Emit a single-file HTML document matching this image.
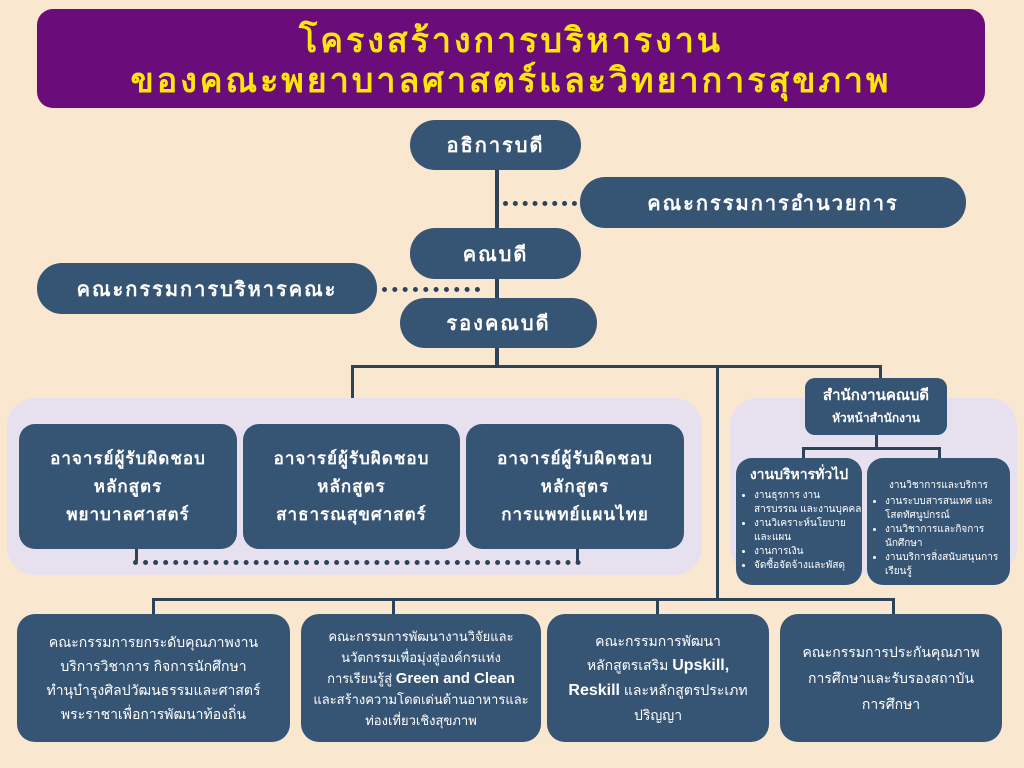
<!DOCTYPE html>
<html><head><meta charset="utf-8"><style>
*{margin:0;padding:0;box-sizing:border-box}
body{width:1024px;height:768px;background:#fae7cf;position:relative;overflow:hidden;font-family:"Liberation Sans","DejaVu Sans",sans-serif;color:#fff}
.a{position:absolute}
.b{position:absolute;background:#365473;color:#fff;display:flex;align-items:center;justify-content:center;text-align:center;font-weight:bold}
.l{position:absolute;background:#2f4358}
.dots{position:absolute;border-top:5px dotted #2f4358;height:0}
.sm{font-size:14px;line-height:22px;font-weight:normal}
ul{list-style:disc;text-align:left;font-size:10px;line-height:14px;padding-left:22px;font-weight:normal}
</style></head><body>
<div class="a" style="left:37px;top:9px;width:948px;height:99px;background:#6a0c7a;border-radius:16px;color:#ffe60a;font-weight:bold;font-size:34px;line-height:40px;text-align:center;padding-top:12px;letter-spacing:3px">โครงสร้างการบริหารงาน<br>ของคณะพยาบาลศาสตร์และวิทยาการสุขภาพ</div>

<div class="l" style="left:495px;top:165px;width:4px;height:140px"></div>
<div class="dots" style="left:503px;top:201px;width:74px"></div>
<div class="dots" style="left:382px;top:287px;width:98px"></div>

<div class="b" style="left:410px;top:120px;width:171px;height:50px;border-radius:25px;font-size:20px;letter-spacing:2px">อธิการบดี</div>
<div class="b" style="left:580px;top:177px;width:386px;height:51px;border-radius:25px;font-size:20px;letter-spacing:2px">คณะกรรมการอำนวยการ</div>
<div class="b" style="left:410px;top:228px;width:171px;height:51px;border-radius:25px;font-size:20px;letter-spacing:2px">คณบดี</div>
<div class="b" style="left:37px;top:263px;width:340px;height:51px;border-radius:25px;font-size:20px;letter-spacing:2px">คณะกรรมการบริหารคณะ</div>
<div class="b" style="left:400px;top:298px;width:197px;height:50px;border-radius:25px;font-size:20px;letter-spacing:2px">รองคณบดี</div>

<div class="l" style="left:495px;top:348px;width:4px;height:20px"></div>
<div class="l" style="left:351px;top:365px;width:531px;height:3px"></div>
<div class="l" style="left:351px;top:365px;width:3px;height:36px"></div>
<div class="l" style="left:716px;top:365px;width:3px;height:236px"></div>
<div class="l" style="left:879px;top:365px;width:3px;height:15px"></div>

<div class="a" style="left:7px;top:398px;width:695px;height:177px;background:#e6e0ef;border-radius:28px"></div>
<div class="a" style="left:730px;top:398px;width:287px;height:177px;background:#e6e0ef;border-radius:28px"></div>

<div class="b" style="left:19px;top:424px;width:218px;height:125px;border-radius:16px;font-size:17px;line-height:28px;letter-spacing:1px"><div>อาจารย์ผู้รับผิดชอบ<br>หลักสูตร<br>พยาบาลศาสตร์</div></div>
<div class="b" style="left:243px;top:424px;width:217px;height:125px;border-radius:16px;font-size:17px;line-height:28px;letter-spacing:1px"><div>อาจารย์ผู้รับผิดชอบ<br>หลักสูตร<br>สาธารณสุขศาสตร์</div></div>
<div class="b" style="left:466px;top:424px;width:218px;height:125px;border-radius:16px;font-size:17px;line-height:28px;letter-spacing:1px"><div>อาจารย์ผู้รับผิดชอบ<br>หลักสูตร<br>การแพทย์แผนไทย</div></div>
<div class="l" style="left:135px;top:549px;width:3px;height:12px"></div>
<div class="l" style="left:576px;top:549px;width:3px;height:12px"></div>
<div class="dots" style="left:133px;top:560px;width:448px"></div>

<div class="l" style="left:875px;top:435px;width:3px;height:13px"></div>
<div class="l" style="left:802px;top:447px;width:139px;height:3px"></div>
<div class="l" style="left:802px;top:447px;width:3px;height:12px"></div>
<div class="l" style="left:938px;top:447px;width:3px;height:12px"></div>
<div class="b" style="left:805px;top:378px;width:142px;height:57px;border-radius:10px;font-size:15px;line-height:22px;flex-direction:column">สำนักงานคณบดี<span style="font-size:12px">หัวหน้าสำนักงาน</span></div>
<div class="b" style="left:736px;top:458px;width:126px;height:127px;border-radius:16px;flex-direction:column;justify-content:flex-start;padding-top:6px"><div style="font-size:14px">งานบริหารทั่วไป</div><ul style="padding-left:18px;margin-top:3px"><li>งานธุรการ งานสารบรรณ และงานบุคคล</li><li>งานวิเคราะห์นโยบายและแผน</li><li>งานการเงิน</li><li>จัดซื้อจัดจ้างและพัสดุ</li></ul></div>
<div class="b" style="left:867px;top:458px;width:143px;height:127px;border-radius:16px;flex-direction:column;justify-content:flex-start;padding-top:20px"><div style="font-size:10px;font-weight:normal">งานวิชาการและบริการ</div><ul style="padding-left:18px;margin-top:2px"><li>งานระบบสารสนเทศ และ โสตทัศนูปกรณ์</li><li>งานวิชาการและกิจการนักศึกษา</li><li>งานบริการสิ่งสนับสนุนการเรียนรู้</li></ul></div>

<div class="l" style="left:152px;top:598px;width:742px;height:3px"></div>
<div class="l" style="left:152px;top:598px;width:3px;height:17px"></div>
<div class="l" style="left:392px;top:598px;width:3px;height:17px"></div>
<div class="l" style="left:656px;top:598px;width:3px;height:17px"></div>
<div class="l" style="left:892px;top:598px;width:3px;height:17px"></div>

<div class="b sm" style="left:17px;top:614px;width:273px;height:128px;border-radius:18px;font-size:14px;line-height:24px"><div>คณะกรรมการยกระดับคุณภาพงาน<br>บริการวิชาการ กิจการนักศึกษา<br>ทำนุบำรุงศิลปวัฒนธรรมและศาสตร์<br>พระราชาเพื่อการพัฒนาท้องถิ่น</div></div>
<div class="b sm" style="left:301px;top:614px;width:240px;height:128px;border-radius:18px;font-size:13px;line-height:21px"><div>คณะกรรมการพัฒนางานวิจัยและ<br>นวัตกรรมเพื่อมุ่งสู่องค์กรแห่ง<br>การเรียนรู้สู่ <b style="font-size:15px">Green and Clean</b><br>และสร้างความโดดเด่นด้านอาหารและ<br>ท่องเที่ยวเชิงสุขภาพ</div></div>
<div class="b sm" style="left:547px;top:614px;width:222px;height:128px;border-radius:18px;font-size:14px;line-height:24px"><div>คณะกรรมการพัฒนา<br>หลักสูตรเสริม <b style="font-size:16px">Upskill,</b><br><b style="font-size:16px">Reskill</b> และหลักสูตรประเภท<br>ปริญญา</div></div>
<div class="b sm" style="left:780px;top:614px;width:222px;height:128px;border-radius:18px;font-size:14px;line-height:26px"><div>คณะกรรมการประกันคุณภาพ<br>การศึกษาและรับรองสถาบัน<br>การศึกษา</div></div>
</body></html>
